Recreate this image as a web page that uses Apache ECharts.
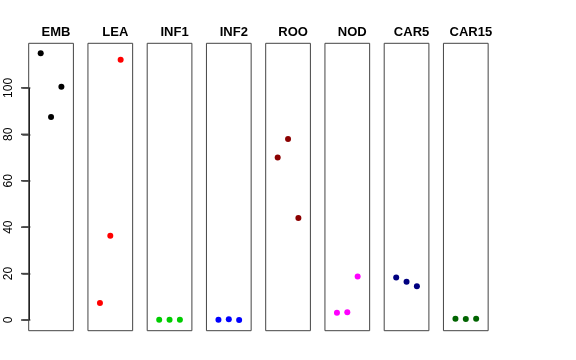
<!DOCTYPE html>
<html>
<head>
<meta charset="utf-8">
<script src="https://cdn.jsdelivr.net/npm/echarts@6/dist/echarts.min.js"></script>
<style>html,body{margin:0;padding:0;background:#fff}#c{width:576px;height:360px}</style>
</head>
<body>
<div id="c"></div>
<script>
const categories = ['EMB','LEA','INF1','INF2','ROO','NOD','CAR5','CAR15'];
const EMB = [114.9, 87.5, 100.5];
const LEA = [7.3, 36.3, 112.1];
const INF1 = [0.1, 0.1, 0.1];
const INF2 = [0.1, 0.3, 0.0];
const ROO = [70.0, 78.0, 43.9];
const NOD = [3.1, 3.4, 18.8];
const CAR5 = [18.3, 16.5, 14.5];
const CAR15 = [0.5, 0.4, 0.5];
const seriesValues = [EMB, LEA, INF1, INF2, ROO, NOD, CAR5, CAR15];
const colors = ['#000000','#FF0000','#00CD00','#0000FF','#8B0000','#FF00FF','#000080','#006400'];
const yTicks = [0, 20, 40, 60, 80, 100];

const panelLeft0 = 28.7, panelStep = 59.25, panelW = 44.7, panelTop = 43.3, panelH = 287.4;
const font = 'Liberation Sans, Arial, Helvetica, sans-serif';
const X_MIN = -0.16, X_MAX = 4.16;

const grids = [], xAxes = [], yAxes = [], series = [], titles = [];
categories.forEach((name, i) => {
  const left = panelLeft0 + i * panelStep;
  grids.push({left: left, top: panelTop, width: panelW, height: panelH, show: true,
    borderColor: '#444', borderWidth: 1, backgroundColor: 'transparent', containLabel: false});
  xAxes.push({type: 'value', gridIndex: i, min: X_MIN, max: X_MAX, show: false});
  yAxes.push({type: 'value', gridIndex: i, min: -4.6, max: 119.2, show: i === 0,
    splitLine: {show: false},
    axisLine: {show: false},
    axisTick: {show: true, inside: false, length: 8, customValues: yTicks,
      lineStyle: {color: '#444', width: 1.5}},
    axisLabel: {show: true, rotate: 90, margin: 14, fontSize: 12, color: '#000',
      fontFamily: font, customValues: yTicks}
  });
  series.push({type: 'scatter', xAxisIndex: i, yAxisIndex: i, symbolSize: 6, symbol: 'circle',
    itemStyle: {color: colors[i], opacity: 1}, silent: true,
    data: seriesValues[i].map((v, j) => [j + 1, v])});
  titles.push({text: name, left: left + panelW / 2, top: 21, textAlign: 'center',
    textStyle: {fontSize: 13, fontWeight: 'bold', color: '#000', fontFamily: font}});
});

const chart = echarts.init(document.getElementById('c'), null, {renderer: 'canvas'});
chart.setOption({
  animation: false,
  backgroundColor: '#fff',
  title: titles,
  grid: grids,
  xAxis: xAxes,
  yAxis: yAxes,
  series: series
});

// y axis line (0..100) and tick marks, positioned through the first panel's scale
const p0 = chart.convertToPixel({gridIndex: 0}, [X_MIN, yTicks[0]]);
const p1 = chart.convertToPixel({gridIndex: 0}, [X_MIN, yTicks[yTicks.length - 1]]);
const ax = Math.round(p0[0]);
const elements = [{type: 'line', z: 100, silent: true,
  shape: {x1: ax + 0.5, y1: p0[1], x2: ax + 0.5, y2: p1[1]}, style: {stroke: '#222', lineWidth: 1}}];
yTicks.forEach(v => {
  const p = chart.convertToPixel({gridIndex: 0}, [X_MIN, v]);
  elements.push({type: 'rect', z: 100, silent: true,
    shape: {x: ax - 8, y: p[1] - 0.75, width: 8, height: 1.5}, style: {fill: '#444'}});
});
chart.setOption({graphic: {elements: elements}});
</script>
</body>
</html>
